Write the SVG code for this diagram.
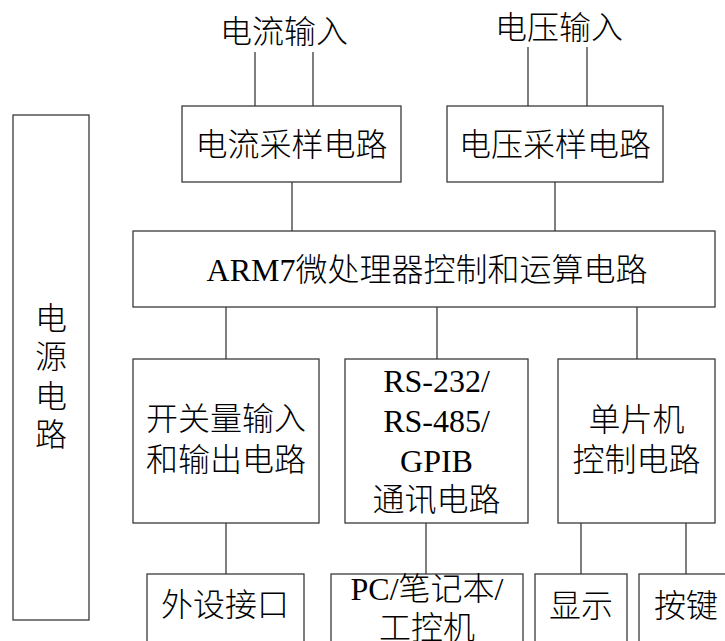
<svg xmlns="http://www.w3.org/2000/svg" width="725" height="641" viewBox="0 0 725 641">
<style>
.box{fill:#fff;stroke:#3a3a3a;stroke-width:1.3}
.ln{stroke:#3a3a3a;stroke-width:1.3;fill:none}
text{font-family:"Liberation Serif","Noto Sans CJK SC",serif;font-size:32px;font-weight:300;fill:#000;text-anchor:middle}
</style>
<rect width="725" height="641" fill="#fff"/>
<g id="connectors">
<line class="ln" x1="255" y1="52" x2="255" y2="106"/>
<line class="ln" x1="313" y1="52" x2="313" y2="106"/>
<line class="ln" x1="528" y1="47" x2="528" y2="106"/>
<line class="ln" x1="587" y1="47" x2="587" y2="106"/>
<line class="ln" x1="292" y1="182" x2="292" y2="231"/>
<line class="ln" x1="555" y1="182" x2="555" y2="231"/>
<line class="ln" x1="226" y1="307" x2="226" y2="359"/>
<line class="ln" x1="437" y1="307" x2="437" y2="359"/>
<line class="ln" x1="637" y1="307" x2="637" y2="359"/>
<line class="ln" x1="226" y1="523" x2="226" y2="574"/>
<line class="ln" x1="426" y1="523" x2="426" y2="574"/>
<line class="ln" x1="581" y1="523" x2="581" y2="574"/>
<line class="ln" x1="686" y1="523" x2="686" y2="574"/>
</g>
<g id="label-current-in"><text x="284" y="43">电流输入</text></g>
<g id="label-voltage-in"><text x="559" y="39">电压输入</text></g>
<g id="power">
<rect class="box" x="13" y="115" width="76" height="505"/>
<text x="51" y="330" font-size="27">电</text>
<text x="51" y="368" font-size="27">源</text>
<text x="51" y="408" font-size="27">电</text>
<text x="51" y="446" font-size="27">路</text>
</g>
<g id="current-sample">
<rect class="box" x="182" y="106" width="219" height="76"/>
<text x="291.5" y="156">电流采样电路</text>
</g>
<g id="voltage-sample">
<rect class="box" x="447" y="106" width="216" height="76"/>
<text x="555" y="156">电压采样电路</text>
</g>
<g id="arm">
<rect class="box" x="133" y="231" width="582" height="76"/>
<text x="427" y="281" font-size="31.5">ARM7微处理器控制和运算电路</text>
</g>
<g id="switch-io">
<rect class="box" x="133" y="359" width="186" height="164"/>
<text x="226" y="430">开关量输入</text>
<text x="226" y="471">和输出电路</text>
</g>
<g id="comm">
<rect class="box" x="345" y="359" width="183" height="164"/>
<text x="436.5" y="392">RS-232/</text>
<text x="436.5" y="432">RS-485/</text>
<text x="436.5" y="472">GPIB</text>
<text x="436.5" y="511">通讯电路</text>
</g>
<g id="mcu">
<rect class="box" x="558" y="359" width="157" height="164"/>
<text x="636.5" y="431">单片机</text>
<text x="636.5" y="471">控制电路</text>
</g>
<g id="peripheral">
<rect class="box" x="147" y="574" width="157" height="90"/>
<text x="225" y="616">外设接口</text>
</g>
<g id="pc">
<rect class="box" x="331" y="574" width="192" height="90"/>
<text x="427" y="600">PC/笔记本/</text>
<text x="427" y="639">工控机</text>
</g>
<g id="display">
<rect class="box" x="535" y="574" width="92" height="90"/>
<text x="581" y="617">显示</text>
</g>
<g id="keys">
<rect class="box" x="639" y="574" width="95" height="90"/>
<text x="686" y="617">按键</text>
</g>
</svg>
